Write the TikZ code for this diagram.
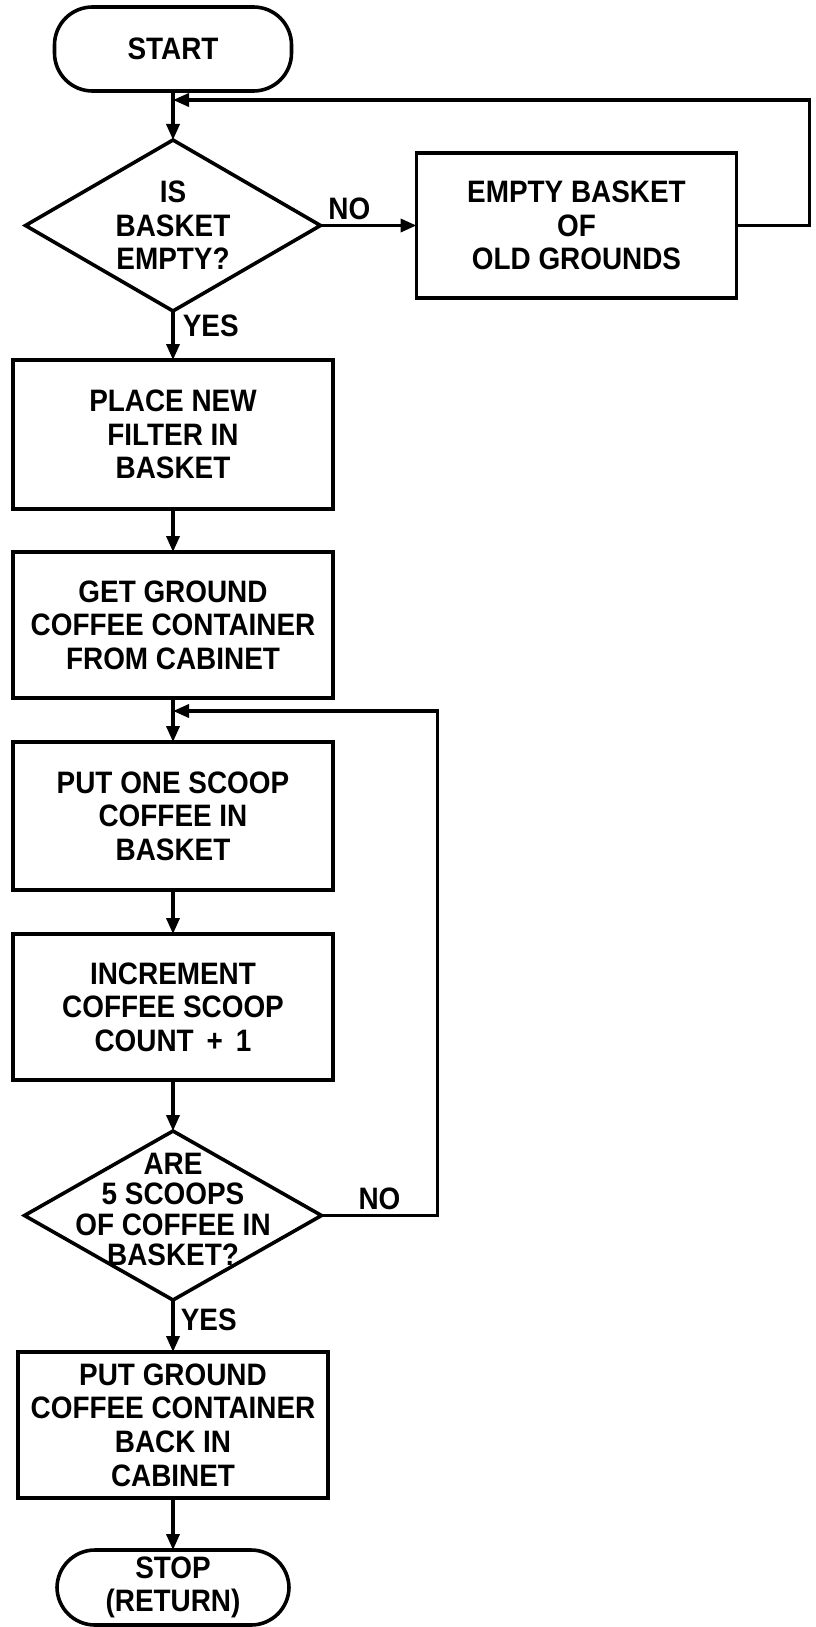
\documentclass[tikz,border=0pt]{standalone}
\usepackage{fontspec}
\setmainfont{Liberation Sans}[FakeStretch=0.9]
\usetikzlibrary{positioning, arrows.meta, shapes.geometric}

\begin{document}
\begin{tikzpicture}[
  x=0.5pt, y=0.5pt,
  font=\bfseries\fontsize{15.5}{16.8}\selectfont,
  line width=1.8pt,
  box/.style      = {draw, align=center, inner sep=2pt, outer sep=0pt},
  process/.style  = {box, minimum width=160pt, minimum height=73pt},
  terminal/.style = {box, rounded corners=19pt},
  decision/.style = {draw, diamond, inner sep=0pt, outer sep=0pt,
                     minimum width=147.5pt, minimum height=85.5pt},
  qtext/.style    = {align=center, inner sep=0pt},
  flow/.style     = {-{Triangle[length=8pt, width=6.5pt]}},
  lab/.style      = {inner sep=2pt},
]
\useasboundingbox (0,0) rectangle (815,-1627);

%% ---------------------------------------------------------------- basket
\node[terminal, minimum width=118.5pt, minimum height=42pt] (start) at (173,-49) {START};
\node[decision, below=24.5pt of start] (isempty) {};
\node[qtext] (isemptytxt) at (isempty) {IS\\BASKET\\EMPTY?};
\node[process, right=48pt of isempty, minimum height=72.5pt] (dump) {EMPTY BASKET\\OF\\OLD GROUNDS};
\node[process, below=24.5pt of isempty, minimum height=74.5pt] (filter) {PLACE NEW\\FILTER IN\\BASKET};
\node[process, below=21.5pt of filter] (getcan) {GET GROUND\\COFFEE CONTAINER\\FROM CABINET};

\coordinate[below=4.5pt of start] (back1);
\draw[flow] (start) -- (isempty);
\draw[flow] (isempty) -- node[lab, above, pos=0.3] {NO} (dump);
\draw[flow] (dump.east) -- ++(36.5pt,0) |- (back1);
\draw[flow] (isempty) -- node[lab, right, pos=0.3, xshift=2pt] {YES} (filter);
\draw[flow] (filter) -- (getcan);

%% ---------------------------------------------------------------- scoops
\node[process, below=22pt of getcan, minimum height=74pt] (scoop) {PUT ONE SCOOP\\COFFEE IN\\BASKET};
\node[process, below=22pt of scoop] (count) {INCREMENT\\COFFEE SCOOP\\COUNT \,+\, 1};
\node[decision, below=25.5pt of count, minimum width=148.5pt, minimum height=84.5pt] (enough) {};
\node[qtext, font=\bfseries\fontsize{15.5}{15.2}\selectfont, yshift=3pt] (enoughtxt) at (enough)
  {ARE\\5 SCOOPS\\OF COFFEE IN\\BASKET?};
\node[process, below=26pt of enough, minimum width=155pt] (putback) {PUT GROUND\\COFFEE CONTAINER\\BACK IN\\CABINET};
\node[terminal, below=26pt of putback, minimum width=116pt, minimum height=37.5pt] (stop) {STOP\\(RETURN)};

\coordinate[below=6.5pt of getcan] (back2);
\draw[flow] (getcan) -- (scoop);
\draw[flow] (scoop) -- (count);
\draw[flow] (count) -- (enough);
\draw[flow] (enough.east) -- node[lab, above] {NO} ++(58pt,0) |- (back2);
\draw[flow] (enough) -- node[lab, right, pos=0.38, xshift=1pt] {YES} (putback);
\draw[flow] (putback) -- (stop);
\end{tikzpicture}
\end{document}
